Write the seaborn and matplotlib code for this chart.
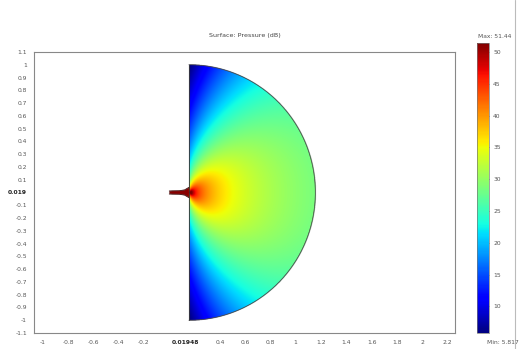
import matplotlib
matplotlib.use("Agg")
import matplotlib.pyplot as plt
import numpy as np
import seaborn as sns

# colour scale limits (dB)
p_min = 5.817
p_max = 51.44
cbar_ticks = [10, 15, 20, 25, 30, 35, 40, 45, 50]

# domain: half disk against a flat wall, horn tube feeding it
wall_x = 0.155
radius = 1.0
horn_x = [0.0, 0.08, 0.12, 0.155]
horn_w = [0.012, 0.014, 0.02, 0.04]

# level model
axis_level = 28.5      # dB on axis at r = 1
decay = 14.0           # dB per decade
wall_drop = [14.0, 9.0]  # drop at 90 deg: base + slope * r
drop_power = 3.0
horn_level = 51.0

xticks = [-1, -0.8, -0.6, -0.4, -0.2, 0.13, 0.4, 0.6, 0.8, 1, 1.2, 1.4, 1.6, 1.8, 2, 2.2]
xlabels = ["-1", "-0.8", "-0.6", "-0.4", "-0.2", "0.01948", "0.4", "0.6", "0.8", "1",
           "1.2", "1.4", "1.6", "1.8", "2", "2.2"]
yticks = [1.1, 1, 0.9, 0.8, 0.7, 0.6, 0.5, 0.4, 0.3, 0.2, 0.1, 0, -0.1, -0.2, -0.3,
          -0.4, -0.5, -0.6, -0.7, -0.8, -0.9, -1, -1.1]
ylabels = ["1.1", "1", "0.9", "0.8", "0.7", "0.6", "0.5", "0.4", "0.3", "0.2", "0.1",
           "0.019", "-0.1", "-0.2", "-0.3", "-0.4", "-0.5", "-0.6", "-0.7", "-0.8",
           "-0.9", "-1", "-1.1"]

sns.set_style("white")
plt.rcParams["font.family"] = ["DejaVu Sans"]

# field
gx = np.linspace(-0.05, 1.25, 700)
gy = np.linspace(-1.05, 1.05, 1100)
X, Y = np.meshgrid(gx, gy)
dx = X - wall_x
r = np.hypot(dx, Y)
th = np.abs(np.arctan2(Y, dx)) / (np.pi / 2)
rr = np.clip(r, 0.02, None)
L = (axis_level - decay * np.log10(rr)
     - (wall_drop[0] + wall_drop[1] * r) * np.clip(th, 0, 1) ** drop_power)
inside_disk = (dx >= 0) & (r <= radius)
hw = np.interp(X, horn_x, horn_w)
inside_horn = (X >= horn_x[0]) & (X < wall_x) & (np.abs(Y) <= hw)
L = np.where(inside_horn, horn_level, L)
L = np.clip(L, p_min, p_max)
field = np.ma.masked_where(~(inside_disk | inside_horn), L)

fig = plt.figure(figsize=(5.2, 3.49), dpi=100)
W, H = 520, 349
ax = fig.add_axes([34 / W, 1 - 333 / H, (455 - 34) / W, (333 - 52) / H])
im = ax.imshow(field, cmap="jet", vmin=p_min, vmax=p_max, origin="lower",
               extent=[gx[0], gx[-1], gy[0], gy[-1]], interpolation="bilinear",
               aspect="auto")

# outline
t = np.linspace(-np.pi / 2, np.pi / 2, 300)
ax.plot(wall_x + radius * np.cos(t), radius * np.sin(t), color="#444444", lw=0.5)
ax.plot([wall_x, wall_x], [-radius, radius], color="#333333", lw=0.6)
hx = np.array(horn_x)
hwa = np.array(horn_w)
ax.plot(hx, hwa, color="#4a1a1a", lw=0.6)
ax.plot(hx, -hwa, color="#4a1a1a", lw=0.6)

ax.set_xlim(-1.07, 2.26)
ax.set_ylim(-1.1, 1.1)
ax.set_xticks(xticks)
ax.set_xticklabels(xlabels)
ax.set_yticks(yticks)
ax.set_yticklabels(ylabels)
ax.tick_params(labelsize=4.3, colors="#555555", length=2, width=0.5, pad=3)
for lab in ax.get_xticklabels():
    if lab.get_text() == "0.01948":
        lab.set_color("#222222")
        lab.set_fontweight("bold")
for lab in ax.get_yticklabels():
    if lab.get_text() == "0.019":
        lab.set_color("#222222")
        lab.set_fontweight("bold")
for s in ax.spines.values():
    s.set_color("#888888")
    s.set_linewidth(0.8)
ax.set_title("Surface: Pressure (dB)", fontsize=4.6, color="#444444", pad=11)

# colorbar
cax = fig.add_axes([477 / W, 1 - 333 / H, 12 / W, 290 / H])
cb = fig.colorbar(im, cax=cax, ticks=cbar_ticks)
cb.outline.set_edgecolor("#777777")
cb.outline.set_linewidth(0.5)
cax.tick_params(labelsize=4.3, colors="#555555", length=2, width=0.5, direction="in", pad=3)
fig.text(495 / W, 1 - 36 / H, "Max: 51.44", fontsize=4.3, color="#555555",
         ha="center", va="center")
fig.text(503 / W, 1 - 343 / H, "Min: 5.817", fontsize=4.3, color="#555555",
         ha="center", va="center")
fig.add_artist(plt.Line2D([515 / W, 515 / W], [0, 1], color="#bbbbbb", lw=0.8))

fig.savefig("out.png", dpi=100)
